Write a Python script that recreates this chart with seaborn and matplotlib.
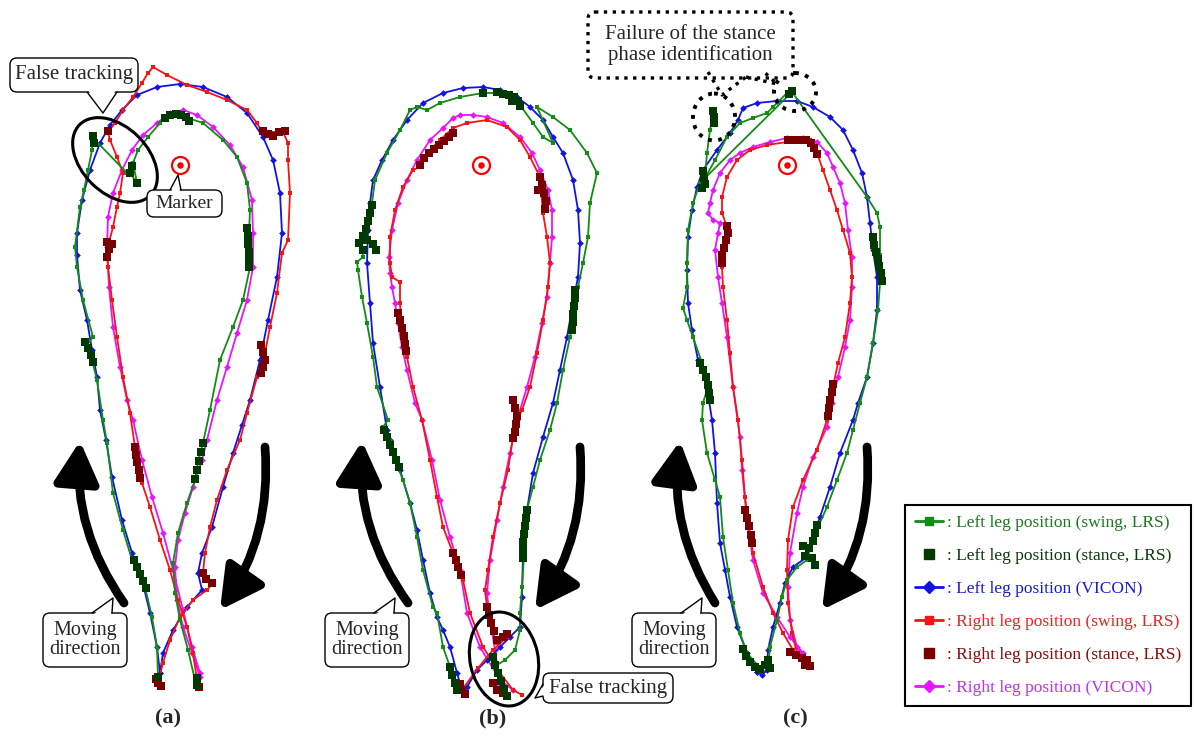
import matplotlib
matplotlib.use("Agg")
import matplotlib.pyplot as plt
import seaborn as sns
from matplotlib.patches import Ellipse, FancyBboxPatch, FancyArrowPatch, Polygon
from matplotlib.lines import Line2D


# ===============================
# TRACED TRAJECTORIES (pixel coords of the figure, y down)
# ===============================

# ---- panel (a) ----
a_blue = [(160,673),(157,647),(150,613),(142,580),(132,553),(122,520),(112,477),(106,440),
          (100,410),(97,377),(92,350),(87,320),(80,290),(77,255),(77,233),(82,200),(90,170),
          (100,143),(110,125),(122,110),(137,95),(157,87),(180,84),(203,87),(227,97),(247,113),
          (263,137),(273,160),(280,193),(282,233),(277,277),(268,320),(260,360),(250,400),
          (242,425),(233,453),(223,487),(212,527),(202,553),(198,573),(202,590),(187,607),
          (173,630),(163,653),(160,673)]
a_green = [(195,680),(188,650),(180,620),(175,593),(173,563),(178,533),(187,503),(195,480),
           (198,462),(203,443),(210,410),(220,360),(233,327),(243,300),(250,267),(249,233),
           (250,210),(247,183),(237,157),(223,140),(203,123),(188,118),(175,115),(165,118),
           (160,123),(148,137),(138,150),(133,163),(137,183),(130,173),(127,173),(95,140),
           (93,135),(92,150),(88,170),(84,190),(80,207),(75,247),(77,267),(83,300),(93,337),
           (87,345),(92,360),(97,380),(103,420),(107,443),(113,493),(123,530),(132,560),
           (145,587),(152,617),(157,647),(158,677)]
a_red = [(197,680),(193,653),(187,627),(178,600),(170,570),(160,540),(150,507),(142,483),
         (135,447),(130,413),(123,377),(117,337),(112,300),(108,267),(107,250),(113,227),
         (117,207),(120,193),(123,173),(117,157),(110,140),(108,132),(115,123),(123,110),
         (133,97),(142,83),(148,73),(153,67),(167,75),(187,85),(207,92),(227,100),(247,110),
         (257,123),(262,132),(273,133),(283,132),(288,143),(288,160),(290,193),(288,240),
         (282,253),(277,293),(270,327),(265,353),(257,377),(247,413),(240,440),(227,470),
         (217,500),(210,527),(205,553),(203,573),(213,583),(207,590),(193,600),(180,617),
         (170,640),(163,663),(158,683)]
a_magenta = [(200,673),(192,647),(183,610),(173,570),(163,533),(152,497),(142,460),(133,420),
             (127,400),(120,367),(113,327),(109,287),(107,247),(108,217),(113,193),(122,170),
             (132,150),(143,135),(157,123),(170,113),(183,110),(197,115),(213,127),(230,145),
             (243,167),(252,200),(253,233),(253,267),(247,300),(237,333),(227,367),(217,400),
             (207,440),(202,460),(193,487),(185,513),(178,540),(175,567),(177,600),(183,627),
             (192,653),(200,677)]
a_green_stance = [(93,136),(94,143),(132,166),(130,173),(137,183),(165,118),(170,115),(176,114),
                  (181,115),(186,117),(189,121),(247,228),(248,236),(248,244),(249,252),(249,260),
                  (249,267),(85,342),(88,348),(91,355),(93,362),(134,560),(137,567),(140,574),
                  (143,581),(146,588),(203,443),(201,452),(199,461),(197,470),(195,479),
                  (158,677),(197,678),(197,685)]
a_red_stance = [(108,131),(107,242),(109,249),(112,244),(107,257),(263,131),(268,134),(273,136),
                (279,132),(285,131),(261,345),(263,352),(265,360),(263,367),(261,373),(135,447),
                (136,455),(137,462),(139,470),(140,478),(203,573),(206,579),(212,583),(158,683),
                (156,679),(161,686),(197,679),(199,687)]

# ---- panel (b) ----
b_blue = [(462,690),(457,673),(450,647),(443,630),(437,617),(430,593),(423,560),(417,530),
          (410,503),(400,470),(390,440),(387,430),(380,387),(373,343),(370,303),(367,263),
          (368,230),(370,203),(373,180),(382,160),(393,140),(407,120),(423,103),(443,93),
          (463,88),(483,87),(500,90),(517,97),(530,107),(543,120),(553,137),(563,153),(573,180),
          (578,210),(580,243),(578,277),(573,303),(567,337),(560,370),(553,403),(543,437),
          (533,473),(527,510),(523,553),(522,597),(520,627),(510,637),(500,647),(487,660),
          (477,670),(467,687)]
b_green = [(455,690),(450,667),(443,647),(437,613),(433,607),(423,570),(417,537),(410,503),
           (403,480),(396,462),(390,440),(383,427),(388,420),(377,387),(373,357),(367,323),
           (362,297),(358,270),(357,262),(363,257),(362,240),(370,220),(372,203),(375,180),
           (387,153),(400,130),(410,110),(417,107),(427,110),(440,103),(460,97),(483,93),
           (500,93),(513,96),(520,105),(533,123),(543,137),(553,143),(537,107),(553,117),
           (570,130),(587,153),(597,173),(590,203),(588,237),(583,263),(578,287),(575,310),
           (570,337),(563,370),(557,403),(550,430),(540,460),(533,487),(527,510),(522,587),
           (520,613),(520,630),(515,650),(505,660),(497,665),(500,680),(507,697)]
b_red = [(462,690),(478,668),(493,650),(507,637),(497,643),(490,625),(487,607),(485,590),
         (488,570),(493,537),(500,503),(508,470),(513,437),(517,420),(522,410),(530,387),
         (537,353),(543,320),(548,287),(550,263),(547,237),(543,213),(540,177),(530,157),
         (520,140),(507,127),(487,120),(467,123),(453,128),(440,140),(427,153),(420,167),
         (413,170),(403,187),(395,210),(390,237),(390,263),(392,277),(400,282),(400,303),
         (402,337),(407,357),(413,387),(422,420),(430,460),(437,497),(443,527),(453,553),
         (463,580),(470,613),(483,647),(500,673),(513,690),(522,695)]
b_magenta = [(513,690),(500,680),(480,647),(467,613),(460,570),(450,537),(440,500),(432,460),
             (422,420),(415,403),(407,370),(402,347),(398,323),(395,303),(392,287),(390,273),
             (389,257),(392,230),(398,203),(407,180),(417,160),(430,140),(443,128),(453,118),
             (460,115),(473,115),(487,117),(503,123),(520,137),(532,153),(540,170),(548,190),
             (552,210),(552,237),(550,263),(547,297),(542,323),(535,357),(527,387),(517,420),
             (510,453),(503,487),(497,520),(490,560),(487,593),(490,620),(495,650),(500,685)]
b_green_stance = [(384,430),(387,437),(390,445),(393,452),(396,460),(399,467),(372,205),(370,213),
                  (368,221),(366,229),(363,236),(359,243),(367,240),(373,244),(376,250),(363,250),
                  (483,93),(497,92),(503,94),(509,95),(514,97),(518,101),(520,106),(512,101),
                  (575,290),(575,298),(574,306),(573,314),(573,322),(572,330),(527,510),(526,518),
                  (525,526),(524,534),(523,542),(523,550),(523,558),(493,657),(495,665),(498,673),
                  (501,681),(504,689),(507,696),(450,667),(452,675),(455,683),(457,690)]
b_red_stance = [(398,313),(400,320),(402,328),(404,336),(405,344),(406,351),(420,165),(424,158),
                (429,153),(434,149),(439,145),(444,141),(449,137),(453,133),(540,177),(542,185),
                (544,193),(546,201),(545,209),(538,190),(513,400),(515,408),(517,416),(516,424),
                (515,432),(513,438),(453,553),(456,560),(458,567),(461,575),(487,607),(489,615),
                (491,623),(494,631),(497,640),(503,637),(507,634),(493,683),(497,690),(503,693),
                (462,690),(460,684),(465,694)]

# ---- panel (c) ----
c_blue = [(757,672),(747,653),(737,627),(730,597),(725,570),(720,543),(717,503),(715,453),
          (712,420),(707,387),(698,360),(692,330),(688,303),(687,270),(688,237),(692,210),
          (697,187),(703,170),(717,150),(730,133),(738,120),(743,108),(757,103),(777,101),
          (797,101),(813,107),(830,117),(843,130),(853,150),(862,173),(867,197),(870,223),
          (873,250),(877,277),(877,310),(873,343),(867,377),(858,403),(853,420),(840,453),
          (830,487),(820,517),(813,537),(807,557),(793,567),(785,583),(780,603),(773,627),
          (768,650),(767,670),(762,675),(757,672)]
c_green_left = [(760,668),(747,653),(740,633),(733,603),(728,570),(723,537),(720,497),(715,480),
                (707,453),(702,420),(703,403),(707,390),(702,363),(693,337),(687,320),(683,308),
                (687,287),(687,263),(688,230),(693,203),(700,183),(705,177),(707,153),(710,130),
                (713,112)]
c_green_right = [(705,178),(715,160),(727,137),(740,123),(753,118),(767,113),(773,107),(787,93),
                 (792,92),(867,197),(877,213),(880,227),(880,255),(880,283),(878,310),(873,343),
                 (867,377),(860,403),(853,430),(847,453),(837,480),(827,507),(818,527),(813,537),
                 (807,560),(797,567),(787,580),(782,597),(777,620),(770,647),(768,667)]
c_green_jump = [(705,178),(792,92)]
c_red = [(802,660),(793,650),(783,633),(773,613),(763,587),(753,553),(748,520),(745,497),
         (742,460),(738,420),(733,387),(730,353),(727,320),(723,287),(722,267),(727,227),
         (722,213),(722,197),(727,177),(737,160),(750,150),(767,145),(787,142),(810,140),
         (817,153),(823,170),(830,190),(837,210),(843,230),(850,253),(852,277),(850,303),
         (845,337),(838,363),(833,387),(827,420),(817,450),(803,480),(793,507),(788,540),
         (787,570),(788,603),(792,633),(797,653),(807,663)]
c_magenta = [(807,660),(803,653),(790,637),(777,617),(763,593),(753,560),(747,520),(742,470),
             (740,437),(733,387),(727,337),(722,303),(718,277),(715,250),(718,233),(720,223),
             (713,220),(708,213),(710,203),(713,190),(720,173),(730,160),(740,153),(753,147),
             (770,142),(787,138),(803,138),(817,142),(827,153),(833,167),(840,183),(845,203),
             (848,230),(852,257),(852,287),(850,320),(845,347),(838,377),(832,403),(827,427),
             (813,457),(803,487),(797,513),(790,553),(788,587),(790,620),(797,647),(803,657)]
c_green_stance = [(713,111),(714,117),(714,123),(792,91),(789,94),(703,171),(704,178),(705,184),
                  (702,188),(873,237),(874,245),(876,252),(878,259),(879,266),(881,273),(882,281),
                  (700,363),(703,370),(706,377),(708,385),(709,393),(710,400),(817,525),(815,533),
                  (813,541),(809,548),(803,546),(805,556),(812,558),(815,565),(743,649),(746,656),
                  (750,662),(755,667),(760,669),(765,665),(768,660),(770,668)]
c_red_stance = [(788,140),(794,140),(800,140),(806,140),(811,143),(814,148),(817,154),(727,226),
                (728,233),(726,240),(724,248),(722,255),(722,263),(833,384),(832,392),(830,400),
                (829,408),(828,416),(745,510),(747,518),(749,526),(751,535),(752,543),(790,652),
                (796,655),(802,658),(807,660),(810,666),(805,665)]

targets = [(180,165),(481,165),(787,165)]
panel_labels = ["(a)", "(b)", "(c)"]
panel_label_x = [168, 493, 795]

legend_labels = [": Left leg position (swing, LRS)",
                 ": Left leg position (stance, LRS)",
                 ": Left leg position (VICON)",
                 ": Right leg position (swing, LRS)",
                 ": Right leg position (stance, LRS)",
                 ": Right leg position (VICON)"]

GREEN = "#128c12"
DGREEN = "#003a00"
BLUE = "#1212e6"
RED = "#f51414"
DRED = "#780000"
MAGENTA = "#e614ff"
text_colors = ["#1b7a1b", "#0b3a0b", "#1a1ad0", "#f02020", "#8a0a0a", "#c030f0"]


sns.set_style("white")
plt.rcParams["font.family"] = ["Liberation Serif", "DejaVu Serif"]

fig = plt.figure(figsize=(11.94, 7.40), dpi=100)
ax = fig.add_axes([0, 0, 1, 1])


def path(pts, color, marker):
    xs = [p[0] for p in pts]
    ys = [p[1] for p in pts]
    sns.lineplot(x=xs, y=ys, sort=False, estimator=None, color=color, linewidth=1.3,
                 marker=marker, markersize=3.4, markeredgewidth=0, ax=ax, zorder=2)


def stance(pts, color):
    xs = [p[0] for p in pts]
    ys = [p[1] for p in pts]
    sns.scatterplot(x=xs, y=ys, marker="s", s=40, color=color, linewidth=0, ax=ax, zorder=3)


for blue, green, red, mag in [(a_blue, a_green, a_red, a_magenta),
                              (b_blue, b_green, b_red, b_magenta),
                              (c_blue, c_green_left, c_red, c_magenta)]:
    path(mag, MAGENTA, "D")
    path(blue, BLUE, "D")
    path(red, RED, "s")
    path(green, GREEN, "s")

path(c_green_right, GREEN, "s")
path(c_green_jump, GREEN, None)

for gs, rs in [(a_green_stance, a_red_stance), (b_green_stance, b_red_stance),
               (c_green_stance, c_red_stance)]:
    stance(rs, DRED)
    stance(gs, DGREEN)

# target markers
tx = [t[0] for t in targets]
ty = [t[1] for t in targets]
sns.scatterplot(x=tx, y=ty, s=150, facecolor="white", edgecolor="red", linewidth=1.6,
                ax=ax, zorder=4)
sns.scatterplot(x=tx, y=ty, s=22, color="red", linewidth=0, ax=ax, zorder=5)


# ===============================
# ANNOTATIONS
# ===============================

def callout(x0, y0, x1, y1, tail, cover, text, fs, ls="-", lw=1.0):
    ax.add_patch(FancyBboxPatch((x0, y0), x1 - x0, y1 - y0,
                                boxstyle="round,pad=0,rounding_size=7",
                                fc="white", ec="black", lw=lw, ls=ls, zorder=6))
    if cover is not None:
        ax.add_patch(Polygon(cover, closed=True, fc="white", ec="none", zorder=7))
    for t in tail:
        ax.plot([q[0] for q in t], [q[1] for q in t], color="black", lw=lw, ls=ls, zorder=7)
    ax.text((x0 + x1) / 2, (y0 + y1) / 2, text, ha="center", va="center",
            fontsize=fs, linespacing=1.05, zorder=8)


callout(10, 58, 138, 92, [[(87, 92), (103, 113), (117, 92)]],
        [(88, 90), (103, 112), (116, 90)], "False tracking", 15)
callout(147, 190, 222, 217, [[(170, 190), (178, 175), (181, 190)]],
        [(171, 192), (178, 176), (180, 192)], "Marker", 14)
callout(543, 673, 673, 703, [[(543, 684), (535, 698), (543, 696)]],
        [(545, 684), (536, 697), (545, 696)], "False tracking", 15)
for bx in [43, 325, 632]:
    callout(bx, 613, bx + 84, 667, [[(bx + 49, 613), (bx + 70, 598), (bx + 69, 613)]],
            [(bx + 50, 615), (bx + 70, 599), (bx + 68, 615)], "Moving\ndirection", 14.5)

callout(588, 12, 793, 78, [[(708, 72), (722, 95), (746, 77)], [(746, 77), (777, 84), (762, 70)]],
        None, "Failure of the stance\nphase identification", 15, ls=":", lw=2.4)

ax.add_patch(Ellipse((115, 160), 100, 66, angle=45, fill=False, ec="black", lw=2.2, zorder=5))
ax.add_patch(Ellipse((504, 659), 68, 95, angle=-12, fill=False, ec="black", lw=2.2, zorder=5))
ax.add_patch(Ellipse((714, 117), 42, 47, fill=False, ec="black", lw=2.8, ls=":", zorder=5))
ax.add_patch(Ellipse((795, 92), 42, 38, fill=False, ec="black", lw=2.8, ls=":", zorder=5))

# moving-direction arrows
arrows = [((124, 603), (80, 441)), ((265, 447), (220, 610)),
          ((408, 603), (362, 441)), ((580, 447), (535, 610)),
          ((715, 603), (680, 441)), ((867, 447), (822, 610))]
for start, end in arrows:
    ax.add_patch(FancyArrowPatch(start, end, connectionstyle="arc3,rad=-0.18",
                                 arrowstyle="-|>,head_length=0.5,head_width=0.27",
                                 mutation_scale=50, color="black", lw=6.3,
                                 shrinkA=0, shrinkB=0, zorder=4))

for lab, lx in zip(panel_labels, panel_label_x):
    ax.text(lx, 718, lab, ha="center", va="center", fontsize=16, fontweight="bold")


# ===============================
# LEGEND
# ===============================

handles = [Line2D([], [], color=GREEN, lw=2, marker="s", markersize=6),
           Line2D([], [], color=DGREEN, lw=0, marker="s", markersize=7),
           Line2D([], [], color=BLUE, lw=2, marker="D", markersize=6),
           Line2D([], [], color=RED, lw=2, marker="s", markersize=6),
           Line2D([], [], color=DRED, lw=0, marker="s", markersize=7),
           Line2D([], [], color=MAGENTA, lw=2, marker="D", markersize=6)]
leg = ax.legend(handles, legend_labels, loc="lower left",
                bbox_to_anchor=(905 / 1194, 34 / 740), borderaxespad=0,
                fontsize=12.5, frameon=True, fancybox=False, framealpha=1,
                edgecolor="black", handlelength=1.6, handletextpad=0.2,
                labelspacing=0.96, borderpad=0.6)
leg.get_frame().set_linewidth(1.5)
for t, c in zip(leg.get_texts(), text_colors):
    t.set_color(c)

ax.set_xlim(0, 1194)
ax.set_ylim(740, 0)
ax.set_aspect("equal")
ax.axis("off")

fig.savefig("out.png", dpi=100)
